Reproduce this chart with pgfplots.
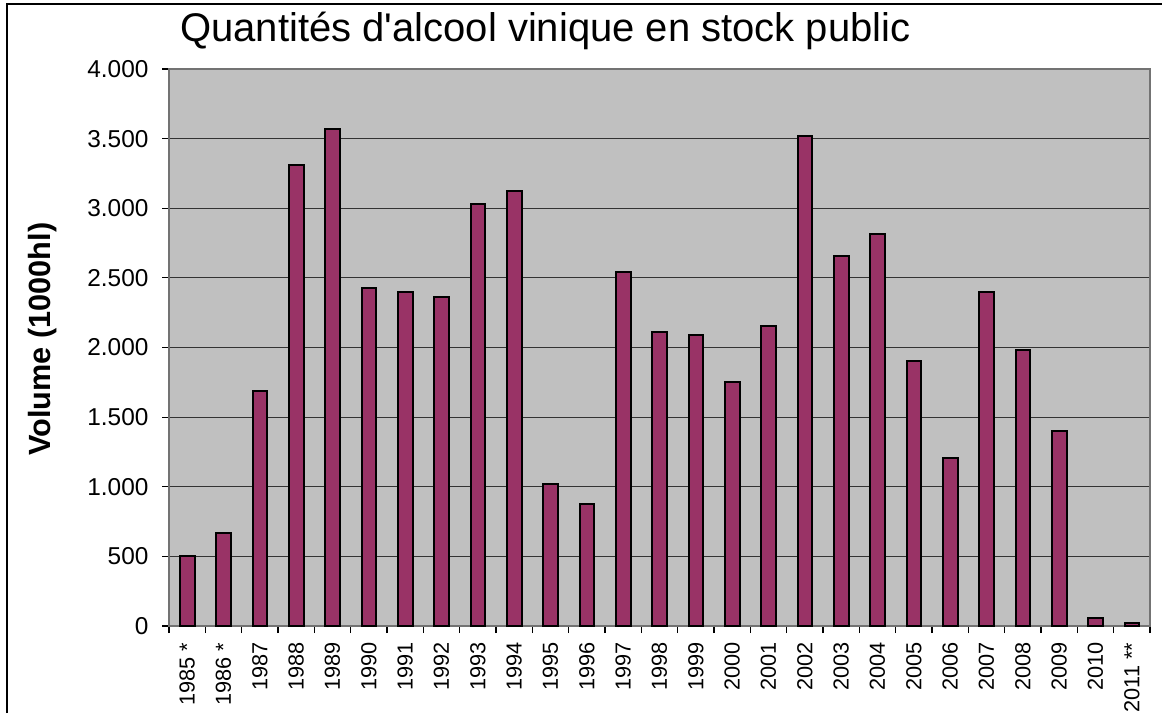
\documentclass[border=0pt]{standalone}
\usepackage{pgfplots}
\pgfplotsset{compat=1.18}
\usepackage{fontspec}
\setmainfont{Liberation Sans}
\definecolor{barcol}{HTML}{993366}
\definecolor{plotbg}{HTML}{C0C0C0}
\begin{document}
\begin{tikzpicture}
\path[use as bounding box] (0pt,0pt) rectangle (871.5pt,534.75pt);
\draw[black, line width=1.1pt] (5.25pt,0pt) -- (5.25pt,531.75pt) -- (871.5pt,531.75pt);
\begin{axis}[
  at={(126.75pt,65.25pt)}, anchor=south west,
  scale only axis, width=735.75pt, height=417.75pt,
  xmin=-0.5, xmax=26.5, ymin=0, ymax=4000,
  axis background/.style={fill=plotbg},
  axis line style={draw=black!55, line width=1.1pt},
  ybar, bar width=11pt,
  ytick={0,500,1000,1500,2000,2500,3000,3500,4000},
  ymajorgrids, major grid style={draw=black!80, line width=0.8pt},
  scaled y ticks=false,
  /pgf/number format/assume math mode=true,
  /pgf/number format/1000 sep={.},
  tick align=outside, major tick length=5.25pt,
  tick style={draw=black, line width=0.8pt},
  xtick pos=bottom, ytick pos=left,
  xtick={-0.5,0.5,1.5,2.5,3.5,4.5,5.5,6.5,7.5,8.5,9.5,10.5,11.5,12.5,13.5,14.5,15.5,16.5,17.5,18.5,19.5,20.5,21.5,22.5,23.5,24.5,25.5,26.5},
  x tick label as interval,
  xticklabels={1985 *,1986 *,1987,1988,1989,1990,1991,1992,1993,1994,1995,1996,1997,1998,1999,2000,2001,2002,2003,2004,2005,2006,2007,2008,2009,2010,2011 **},
  xticklabel style={yshift=-7pt, rotate=90, anchor=east, inner sep=0pt, font=\fontsize{16.3}{19}\selectfont},
  yticklabel style={xshift=-10pt, anchor=east, inner sep=0pt, font=\fontsize{18.3}{22}\selectfont},
  title={Quantités d\textquotesingle alcool vinique en stock public},
  title style={at={(0.0112,1)}, anchor=base west, yshift=14.25pt, inner sep=0pt, font=\fontsize{30}{36}\selectfont},
  ylabel={Volume (1000hl)},
  ylabel style={at={(axis description cs:-0.1285,0.515)}, anchor=center, inner sep=0pt, font=\fontsize{23}{28}\selectfont\bfseries},
]
\addplot[fill=barcol, draw=black, line width=1.5pt] coordinates {
(0,500) (1,670) (2,1690) (3,3310) (4,3570) (5,2430) (6,2400) (7,2365) (8,3030) (9,3125)
(10,1020) (11,875) (12,2545) (13,2110) (14,2090) (15,1750) (16,2155) (17,3520) (18,2655) (19,2815)
(20,1905) (21,1205) (22,2400) (23,1985) (24,1400) (25,60) (26,20)};
\end{axis}
\end{tikzpicture}
\end{document}
